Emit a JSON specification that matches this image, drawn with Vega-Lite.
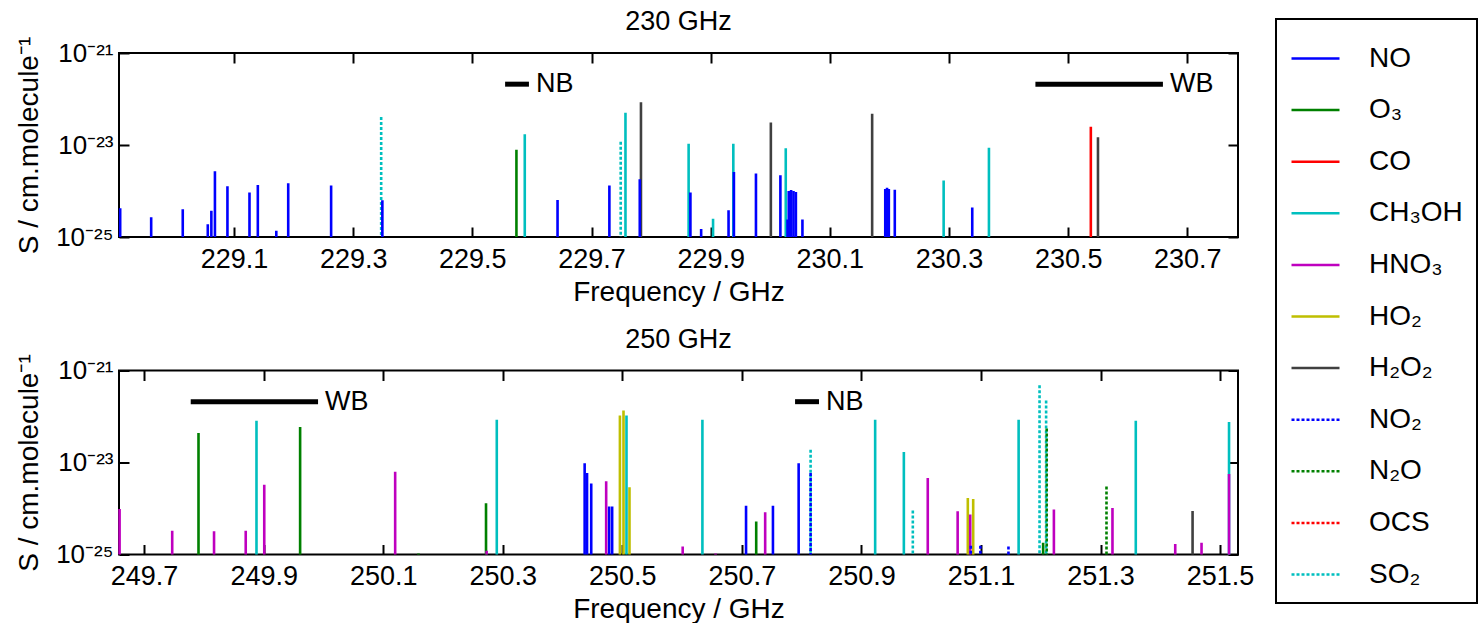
{
  "$schema": "https://vega.github.io/schema/vega-lite/v6.json",
  "padding": {"left": 14, "top": 7, "right": 0, "bottom": 0},
  "background": "white",
  "config": {
    "font": "Liberation Sans",
    "view": {"stroke": "black", "strokeWidth": 2},
    "axis": {"grid": false, "domain": false, "tickColor": "black", "tickWidth": 2, "tickSize": -10, "labelFontSize": 27, "labelColor": "black", "titleFontSize": 28, "titleFontWeight": "normal", "titleColor": "black", "labelFont": "Liberation Sans", "titleFont": "Liberation Sans"},
    "title": {"fontSize": 27, "fontWeight": "normal", "color": "black", "font": "Liberation Sans", "offset": 0},
    "legend": {"orient": "none", "legendX": 1157, "legendY": -34, "padding": 14, "strokeColor": "black", "strokeWidth": 2, "labelFontSize": 28, "labelFont": "Liberation Sans", "labelColor": "black", "symbolType": "stroke", "symbolSize": 2304, "symbolStrokeWidth": 2.5, "labelOffset": 28, "rowPadding": 11.6, "labelLimit": 300}
  },
  "datasets": {
    "lines": [
      {"p": "230", "sp": "NO", "f": 228.909, "S": 4.2e-25},
      {"p": "230", "sp": "NO", "f": 228.961, "S": 2.7e-25},
      {"p": "230", "sp": "NO", "f": 229.014, "S": 4.0e-25},
      {"p": "230", "sp": "NO", "f": 229.056, "S": 1.9e-25},
      {"p": "230", "sp": "NO", "f": 229.062, "S": 3.7e-25},
      {"p": "230", "sp": "NO", "f": 229.068, "S": 2.7e-24},
      {"p": "230", "sp": "NO", "f": 229.089, "S": 1.27e-24},
      {"p": "230", "sp": "NO", "f": 229.126, "S": 9.3e-25},
      {"p": "230", "sp": "NO", "f": 229.140, "S": 1.35e-24},
      {"p": "230", "sp": "NO", "f": 229.171, "S": 1.36e-25},
      {"p": "230", "sp": "NO", "f": 229.191, "S": 1.47e-24},
      {"p": "230", "sp": "NO", "f": 229.263, "S": 1.32e-24},
      {"p": "230", "sp": "NO", "f": 229.349, "S": 6.3e-25},
      {"p": "230", "sp": "NO", "f": 229.643, "S": 6.4e-25},
      {"p": "230", "sp": "NO", "f": 229.730, "S": 1.32e-24},
      {"p": "230", "sp": "NO", "f": 229.781, "S": 1.8e-24},
      {"p": "230", "sp": "NO", "f": 229.866, "S": 9.3e-25},
      {"p": "230", "sp": "NO", "f": 229.884, "S": 1.5e-25},
      {"p": "230", "sp": "NO", "f": 229.930, "S": 3.8e-25},
      {"p": "230", "sp": "NO", "f": 229.939, "S": 2.6e-24},
      {"p": "230", "sp": "NO", "f": 229.976, "S": 2.4e-24},
      {"p": "230", "sp": "NO", "f": 230.017, "S": 2.2e-24},
      {"p": "230", "sp": "NO", "f": 230.029, "S": 2.4e-25},
      {"p": "230", "sp": "NO", "f": 230.031, "S": 1.0e-24},
      {"p": "230", "sp": "NO", "f": 230.035, "S": 1.05e-24},
      {"p": "230", "sp": "NO", "f": 230.039, "S": 1.0e-24},
      {"p": "230", "sp": "NO", "f": 230.043, "S": 9.5e-25},
      {"p": "230", "sp": "NO", "f": 230.054, "S": 2.4e-25},
      {"p": "230", "sp": "NO", "f": 230.193, "S": 1.1e-24},
      {"p": "230", "sp": "NO", "f": 230.196, "S": 1.17e-24},
      {"p": "230", "sp": "NO", "f": 230.199, "S": 1.1e-24},
      {"p": "230", "sp": "NO", "f": 230.209, "S": 1.07e-24},
      {"p": "230", "sp": "NO", "f": 230.339, "S": 4.4e-25},
      {"p": "230", "sp": "O₃", "f": 229.574, "S": 7.9e-24},
      {"p": "230", "sp": "CO", "f": 230.538, "S": 2.5e-23},
      {"p": "230", "sp": "CH₃OH", "f": 229.588, "S": 1.71e-23},
      {"p": "230", "sp": "CH₃OH", "f": 229.757, "S": 5.0e-23},
      {"p": "230", "sp": "CH₃OH", "f": 229.863, "S": 1.07e-23},
      {"p": "230", "sp": "CH₃OH", "f": 229.904, "S": 2.5e-25},
      {"p": "230", "sp": "CH₃OH", "f": 229.938, "S": 1.07e-23},
      {"p": "230", "sp": "CH₃OH", "f": 230.026, "S": 8.5e-24},
      {"p": "230", "sp": "CH₃OH", "f": 230.291, "S": 1.7e-24},
      {"p": "230", "sp": "CH₃OH", "f": 230.367, "S": 8.7e-24},
      {"p": "230", "sp": "H₂O₂", "f": 229.783, "S": 8.5e-23},
      {"p": "230", "sp": "H₂O₂", "f": 230.001, "S": 3.1e-23},
      {"p": "230", "sp": "H₂O₂", "f": 230.171, "S": 4.8e-23},
      {"p": "230", "sp": "H₂O₂", "f": 230.550, "S": 1.48e-23},
      {"p": "230", "sp": "SO₂", "f": 229.347, "S": 4.07e-23},
      {"p": "230", "sp": "SO₂", "f": 229.749, "S": 1.17e-23},
      {"p": "250", "sp": "HNO₃", "f": 249.659, "S": 9.8e-25},
      {"p": "250", "sp": "HNO₃", "f": 249.747, "S": 3.3e-25},
      {"p": "250", "sp": "HNO₃", "f": 249.817, "S": 3.2e-25},
      {"p": "250", "sp": "HNO₃", "f": 249.870, "S": 3.3e-25},
      {"p": "250", "sp": "HNO₃", "f": 249.901, "S": 3.3e-24},
      {"p": "250", "sp": "HNO₃", "f": 250.120, "S": 6.3e-24},
      {"p": "250", "sp": "HNO₃", "f": 250.273, "S": 1.2e-25},
      {"p": "250", "sp": "HNO₃", "f": 250.473, "S": 3.9e-24},
      {"p": "250", "sp": "HNO₃", "f": 250.601, "S": 1.5e-25},
      {"p": "250", "sp": "HNO₃", "f": 250.656, "S": 1.05e-25},
      {"p": "250", "sp": "HNO₃", "f": 250.739, "S": 8.3e-25},
      {"p": "250", "sp": "HNO₃", "f": 251.011, "S": 4.6e-24},
      {"p": "250", "sp": "HNO₃", "f": 251.061, "S": 8.7e-25},
      {"p": "250", "sp": "HNO₃", "f": 251.082, "S": 7.4e-25},
      {"p": "250", "sp": "HNO₃", "f": 251.222, "S": 9.5e-25},
      {"p": "250", "sp": "HNO₃", "f": 251.320, "S": 1.03e-24},
      {"p": "250", "sp": "HNO₃", "f": 251.425, "S": 1.7e-25},
      {"p": "250", "sp": "HNO₃", "f": 251.469, "S": 1.8e-25},
      {"p": "250", "sp": "HNO₃", "f": 251.515, "S": 5.6e-24},
      {"p": "250", "sp": "O₃", "f": 249.791, "S": 4.4e-23},
      {"p": "250", "sp": "O₃", "f": 249.961, "S": 5.9e-23},
      {"p": "250", "sp": "O₃", "f": 250.159, "S": 1.05e-25},
      {"p": "250", "sp": "O₃", "f": 250.272, "S": 1.3e-24},
      {"p": "250", "sp": "O₃", "f": 250.724, "S": 5.2e-25},
      {"p": "250", "sp": "O₃", "f": 251.204, "S": 1.8e-25},
      {"p": "250", "sp": "CH₃OH", "f": 249.888, "S": 8.1e-23},
      {"p": "250", "sp": "CH₃OH", "f": 250.290, "S": 8.5e-23},
      {"p": "250", "sp": "CH₃OH", "f": 250.507, "S": 1.05e-22},
      {"p": "250", "sp": "CH₃OH", "f": 250.634, "S": 8.5e-23},
      {"p": "250", "sp": "CH₃OH", "f": 250.923, "S": 8.5e-23},
      {"p": "250", "sp": "CH₃OH", "f": 250.971, "S": 1.7e-23},
      {"p": "250", "sp": "CH₃OH", "f": 251.163, "S": 8.5e-23},
      {"p": "250", "sp": "CH₃OH", "f": 251.359, "S": 8.1e-23},
      {"p": "250", "sp": "CH₃OH", "f": 251.515, "S": 7.6e-23},
      {"p": "250", "sp": "NO", "f": 250.437, "S": 9.6e-24},
      {"p": "250", "sp": "NO", "f": 250.441, "S": 5.9e-24},
      {"p": "250", "sp": "NO", "f": 250.448, "S": 3.5e-24},
      {"p": "250", "sp": "NO", "f": 250.478, "S": 1.1e-24},
      {"p": "250", "sp": "NO", "f": 250.483, "S": 1.1e-24},
      {"p": "250", "sp": "NO", "f": 250.707, "S": 1.15e-24},
      {"p": "250", "sp": "NO", "f": 250.752, "S": 1.15e-24},
      {"p": "250", "sp": "NO", "f": 250.795, "S": 9.6e-24},
      {"p": "250", "sp": "HO₂", "f": 250.496, "S": 1.05e-22},
      {"p": "250", "sp": "HO₂", "f": 250.502, "S": 1.35e-22},
      {"p": "250", "sp": "HO₂", "f": 250.512, "S": 2.9e-24},
      {"p": "250", "sp": "HO₂", "f": 251.078, "S": 1.7e-24},
      {"p": "250", "sp": "HO₂", "f": 251.087, "S": 1.6e-24},
      {"p": "250", "sp": "H₂O₂", "f": 251.454, "S": 8.8e-25},
      {"p": "250", "sp": "NO₂", "f": 250.815, "S": 5.9e-24},
      {"p": "250", "sp": "NO₂", "f": 251.083, "S": 1.55e-25},
      {"p": "250", "sp": "NO₂", "f": 251.099, "S": 1.55e-25},
      {"p": "250", "sp": "NO₂", "f": 251.146, "S": 1.5e-25},
      {"p": "250", "sp": "N₂O", "f": 251.210, "S": 5.5e-23},
      {"p": "250", "sp": "N₂O", "f": 251.310, "S": 3.0e-24},
      {"p": "250", "sp": "SO₂", "f": 250.815, "S": 1.9e-23},
      {"p": "250", "sp": "SO₂", "f": 250.986, "S": 9.1e-25},
      {"p": "250", "sp": "SO₂", "f": 251.198, "S": 4.8e-22},
      {"p": "250", "sp": "SO₂", "f": 251.209, "S": 2.24e-22}
    ],
    "bands": [
      {"p": "230", "name": "NB", "start": 229.555, "end": 229.595, "S": 2.1e-22},
      {"p": "230", "name": "WB", "start": 230.445, "end": 230.659, "S": 2.1e-22},
      {"p": "250", "name": "WB", "start": 249.778, "end": 249.991, "S": 2.1e-22},
      {"p": "250", "name": "NB", "start": 250.789, "end": 250.829, "S": 2.1e-22}
    ]
  },
  "spacing": 17.5,
  "vconcat": [
    {
      "title": {"text": "230 GHz", "offset": 0},
      "width": 1119,
      "height": 184,
      "resolve": {"axis": {"x": "independent", "y": "independent"}},
      "layer": [
        {
          "data": {"name": "lines"},
          "transform": [{"filter": "datum.p == '230'"}],
          "mark": {"type": "rule", "strokeWidth": 2.6, "strokeCap": "butt"},
          "encoding": {
            "x": {"field": "f", "type": "quantitative", "scale": {"domain": [228.907, 230.785], "nice": false, "zero": false},
                  "axis": {"orient": "bottom", "title": "Frequency / GHz", "values": [229.1, 229.3, 229.5, 229.7, 229.9, 230.1, 230.3, 230.5, 230.7], "format": ".1f", "labelPadding": 19, "titlePadding": 6}},
            "y": {"field": "S", "type": "quantitative", "scale": {"type": "log", "domain": [1e-25, 1e-21], "nice": false},
                  "axis": {"orient": "left", "title": "S / cm.molecule⁻¹", "titleFontSize": 28, "labelFontSize": 26, "values": [1e-25, 1e-23, 1e-21], "labelExpr": "datum.value < 1e-24 ? '10⁻²⁵' : datum.value < 1e-22 ? '10⁻²³' : '10⁻²¹'", "labelPadding": 16, "titlePadding": 12.5}},
            "y2": {"datum": 1e-25},
            "color": {"field": "sp", "type": "nominal", "title": null,
                      "scale": {"domain": ["NO", "O₃", "CO", "CH₃OH", "HNO₃", "HO₂", "H₂O₂", "NO₂", "N₂O", "OCS", "SO₂"],
                                "range": ["#0000ff", "#008000", "#ff0000", "#00bfbf", "#bf00bf", "#bfbf00", "#404040", "#0000ff", "#008000", "#ff0000", "#00bfbf"]}},
            "strokeDash": {"field": "sp", "type": "nominal", "title": null,
                      "scale": {"domain": ["NO", "O₃", "CO", "CH₃OH", "HNO₃", "HO₂", "H₂O₂", "NO₂", "N₂O", "OCS", "SO₂"],
                                "range": [[1, 0], [1, 0], [1, 0], [1, 0], [1, 0], [1, 0], [1, 0], [3, 2], [3, 2], [3, 2], [3, 2]]}},
            "order": {"field": "S", "type": "quantitative", "sort": "descending"}
          }
        },
        {
          "data": {"name": "bands"},
          "transform": [{"filter": "datum.p == '230'"}],
          "mark": {"type": "rule", "strokeWidth": 5, "color": "black", "strokeCap": "butt"},
          "encoding": {
            "x": {"field": "start", "type": "quantitative", "axis": {"orient": "top", "labels": false, "title": null, "values": [229.1, 229.3, 229.5, 229.7, 229.9, 230.1, 230.3, 230.5, 230.7]}},
            "x2": {"field": "end"},
            "y": {"field": "S", "type": "quantitative", "axis": {"orient": "right", "labels": false, "title": null, "values": [1e-25, 1e-23, 1e-21]}}
          }
        },
        {
          "data": {"name": "bands"},
          "transform": [{"filter": "datum.p == '230'"}],
          "mark": {"type": "text", "align": "left", "baseline": "middle", "dx": 7, "fontSize": 27, "font": "Liberation Sans", "color": "black"},
          "encoding": {
            "x": {"field": "end", "type": "quantitative", "axis": null},
            "y": {"field": "S", "type": "quantitative", "axis": null},
            "text": {"field": "name"}
          }
        }
      ]
    },
    {
      "title": {"text": "250 GHz", "offset": 0},
      "width": 1119,
      "height": 184,
      "resolve": {"axis": {"x": "independent", "y": "independent"}},
      "layer": [
        {
          "data": {"name": "lines"},
          "transform": [{"filter": "datum.p == '250'"}],
          "mark": {"type": "rule", "strokeWidth": 2.6, "strokeCap": "butt"},
          "encoding": {
            "x": {"field": "f", "type": "quantitative", "scale": {"domain": [249.658, 251.53], "nice": false, "zero": false},
                  "axis": {"orient": "bottom", "title": "Frequency / GHz", "values": [249.7, 249.9, 250.1, 250.3, 250.5, 250.7, 250.9, 251.1, 251.3, 251.5], "format": ".1f", "labelPadding": 19, "titlePadding": 6}},
            "y": {"field": "S", "type": "quantitative", "scale": {"type": "log", "domain": [1e-25, 1e-21], "nice": false},
                  "axis": {"orient": "left", "title": "S / cm.molecule⁻¹", "titleFontSize": 28, "labelFontSize": 26, "values": [1e-25, 1e-23, 1e-21], "labelExpr": "datum.value < 1e-24 ? '10⁻²⁵' : datum.value < 1e-22 ? '10⁻²³' : '10⁻²¹'", "labelPadding": 16, "titlePadding": 12.5}},
            "y2": {"datum": 1e-25},
            "color": {"field": "sp", "type": "nominal", "title": null},
            "strokeDash": {"field": "sp", "type": "nominal", "title": null},
            "order": {"field": "S", "type": "quantitative", "sort": "descending"}
          }
        },
        {
          "data": {"name": "bands"},
          "transform": [{"filter": "datum.p == '250'"}],
          "mark": {"type": "rule", "strokeWidth": 5, "color": "black", "strokeCap": "butt"},
          "encoding": {
            "x": {"field": "start", "type": "quantitative", "axis": {"orient": "top", "labels": false, "title": null, "values": [249.7, 249.9, 250.1, 250.3, 250.5, 250.7, 250.9, 251.1, 251.3, 251.5]}},
            "x2": {"field": "end"},
            "y": {"field": "S", "type": "quantitative", "axis": {"orient": "right", "labels": false, "title": null, "values": [1e-25, 1e-23, 1e-21]}}
          }
        },
        {
          "data": {"name": "bands"},
          "transform": [{"filter": "datum.p == '250'"}],
          "mark": {"type": "text", "align": "left", "baseline": "middle", "dx": 7, "fontSize": 27, "font": "Liberation Sans", "color": "black"},
          "encoding": {
            "x": {"field": "end", "type": "quantitative", "axis": null},
            "y": {"field": "S", "type": "quantitative", "axis": null},
            "text": {"field": "name"}
          }
        }
      ]
    }
  ],
  "resolve": {"scale": {"color": "shared", "strokeDash": "shared"}}
}
